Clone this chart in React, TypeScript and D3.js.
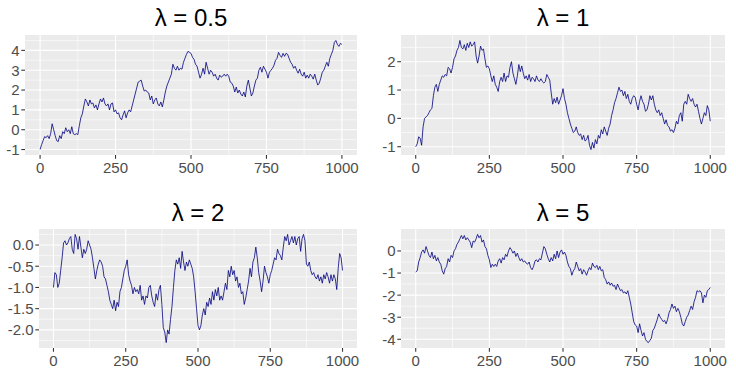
import React from "react";
import * as d3 from "d3";

const STEP = 5;
const X_TICKS = [0, 250, 500, 750, 1000];
const TITLES = ["λ = 0.5", "λ = 1", "λ = 2", "λ = 5"];

const WALK_05 = [
  -1.0, -0.75, -0.55, -0.35, -0.4, -0.3, -0.45, -0.2, 0.3, 0.0, -0.3, -0.55, -0.6, -0.3, -0.45, -0.1, -0.2, 0.1, -0.1, 0.0,
  -0.2, 0.15, -0.2, -0.25, -0.2, -0.25, 0.2, 0.6, 0.8, 1.2, 1.55, 1.4, 1.2, 1.5, 1.3, 1.35, 1.1, 1.25, 1.0, 1.3,
  1.55, 1.4, 1.6, 1.3, 1.2, 1.3, 1.0, 1.3, 1.35, 0.9, 1.0, 0.8, 0.85, 0.6, 0.5, 0.75, 0.95, 0.6, 0.85, 1.0,
  0.9, 1.2, 1.5, 1.8, 2.1, 2.4, 2.45, 2.5, 2.2, 1.95, 2.0, 1.9, 1.85, 1.5, 1.7, 1.3, 1.5, 1.6, 1.3, 1.2,
  1.4, 1.15, 1.5, 1.9, 2.2, 2.4, 2.6, 2.8, 3.3, 3.1, 3.0, 3.2, 3.0, 3.1, 3.05, 3.4, 3.6, 3.8, 3.95, 3.9,
  3.85, 3.65, 3.55, 3.3, 3.2, 2.9, 2.6, 2.8, 3.1, 2.8, 3.4, 3.1, 2.8, 3.0, 2.9, 2.7, 2.8, 2.6, 2.5, 2.75,
  2.65, 2.7, 2.8, 2.7, 2.8, 2.7, 2.4, 2.35, 2.2, 1.9, 2.15, 1.85, 2.0, 1.8, 1.7, 1.9, 1.65, 2.2, 2.5, 2.1,
  1.7, 1.85, 2.2, 2.5, 2.6, 3.0, 3.15, 2.9, 3.2, 3.05, 2.9, 2.6, 2.9, 3.0, 3.1, 3.25, 3.5, 3.6, 3.9, 3.75,
  3.65, 3.85, 3.7, 3.85, 3.8, 3.6, 3.4, 3.3, 3.1, 3.2, 3.0, 2.85, 3.05, 2.8, 2.7, 2.9, 2.6, 2.75, 2.6, 2.8,
  2.7, 2.55, 2.8, 2.5, 2.25, 2.35, 2.6, 2.9, 3.0, 3.2, 3.4, 3.2, 3.6, 3.8, 4.0, 4.4, 4.5, 4.3, 4.2, 4.35,
  4.3,
];

const WALK_1 = [
  -1.0, -0.9, -0.65, -0.7, -0.95, -0.3, 0.0, 0.05, 0.1, 0.2, 0.3, 0.35, 0.8, 1.1, 1.2, 0.95, 1.2, 1.35, 1.5, 1.45,
  1.55, 1.5, 1.8, 1.75, 1.6, 1.8, 2.1, 2.2, 2.4, 2.5, 2.75, 2.5, 2.45, 2.6, 2.4, 2.65, 2.5, 2.7, 2.55, 2.6,
  2.7, 2.2, 1.95, 2.2, 2.55, 2.4, 2.45, 2.1, 1.8, 1.85, 1.75, 1.5, 1.3, 1.5, 1.2, 1.1, 0.95, 1.3, 1.45, 1.3,
  1.6, 1.3, 1.5, 1.45, 1.8, 2.0, 1.6, 1.4, 1.2, 1.5, 1.9, 1.65, 1.85, 1.6, 1.4, 1.5, 1.35, 1.55, 1.3, 1.45,
  1.4, 1.3, 1.5, 1.35, 1.3, 1.4, 1.3, 1.25, 1.3, 1.55, 1.45, 1.35, 0.9, 0.5, 0.7, 0.55, 0.75, 0.5, 0.65, 0.8,
  1.05, 0.7, 0.5, 0.2, 0.0, -0.2, -0.35, -0.5, -0.45, -0.3, -0.5, -0.6, -0.55, -0.75, -0.6, -0.8, -0.75, -0.6, -0.95, -1.1,
  -0.85, -1.05, -0.75, -0.9, -0.6, -0.7, -0.4, -0.55, -0.3, -0.45, -0.6, -0.35, -0.2, 0.1, 0.3, 0.55, 0.7, 0.9, 1.1, 0.95,
  1.0, 0.8, 0.95, 0.7, 0.85, 0.6, 0.5, 0.7, 0.8, 0.75, 0.5, 0.3, 0.6, 0.8, 0.6, 0.5, 0.25, 0.3, 0.5, 0.8,
  0.65, 0.8, 0.5, 0.3, 0.2, 0.3, 0.1, 0.2, 0.0, -0.2, -0.05, -0.25, -0.3, -0.45, -0.4, -0.5, -0.35, -0.1, -0.2, 0.1,
  0.2, -0.1, 0.5, 0.6, 0.5, 0.85, 0.7, 0.6, 0.7, 0.5, 0.4, 0.5, 0.25, 0.0, -0.2, 0.0, 0.2, 0.1, 0.45, 0.3,
  -0.1,
];

const WALK_2 = [
  -1.0, -0.65, -0.7, -1.0, -0.9, -0.6, -0.3, 0.05, 0.1, 0.0, 0.05, 0.15, 0.2, -0.1, -0.2, 0.25, 0.15, -0.1, 0.2, -0.05,
  -0.3, -0.1, -0.2, -0.1, 0.1, 0.0, -0.1, -0.3, -0.55, -0.8, -0.6, -0.45, -0.35, -0.4, -0.5, -0.75, -0.8, -0.95, -1.1, -1.3,
  -1.4, -1.5, -1.3, -1.55, -1.35, -1.45, -1.1, -1.0, -0.8, -0.6, -0.5, -0.35, -0.7, -0.85, -0.95, -1.15, -1.0, -1.1, -1.05, -1.15,
  -0.95, -1.3, -1.2, -1.4, -1.2, -1.25, -1.0, -0.95, -1.2, -1.35, -1.45, -1.15, -1.3, -1.05, -0.95, -1.4, -1.95, -2.05, -2.3, -2.0,
  -2.1, -1.75, -1.45, -1.0, -0.6, -0.35, -0.45, -0.3, -0.55, -0.15, -0.4, -0.6, -0.4, -0.5, -0.35, -0.45, -0.55, -0.75, -1.1, -1.5,
  -1.9, -2.0, -1.9, -1.65, -1.5, -1.65, -1.35, -1.45, -1.25, -1.4, -1.1, -1.3, -1.05, -1.2, -1.0, -1.3, -1.2, -1.3, -1.1, -0.9,
  -1.05, -0.6, -0.75, -0.5, -0.7, -0.6, -0.85, -0.75, -1.0, -0.9, -1.15, -1.1, -1.4, -1.25, -1.05, -0.85, -0.55, -0.75, -0.4, -0.3,
  -0.05, -0.3, -0.65, -0.85, -1.1, -0.85, -0.5, -0.65, -0.75, -0.9, -0.7, -0.6, -0.45, -0.3, -0.35, -0.1, -0.2, -0.25, -0.35, -0.05,
  0.2, 0.1, 0.25, 0.0, 0.1, 0.2, 0.05, 0.2, 0.0, 0.15, 0.2, -0.15, 0.15, 0.25, 0.1, -0.45, -0.5, -0.4, -0.6, -0.7,
  -0.65, -0.75, -0.8, -0.7, -0.85, -0.75, -0.9, -0.7, -0.8, -0.65, -0.75, -0.9, -0.7, -0.85, -0.7, -0.8, -1.05, -0.55, -0.2, -0.3,
  -0.6,
];

const WALK_5 = [
  -0.95, -0.9, -0.5, -0.3, -0.05, 0.05, -0.1, 0.2, 0.0, -0.2, -0.3, -0.05, -0.35, -0.2, -0.45, -0.3, -0.5, -0.6, -0.9, -1.05,
  -0.8, -0.7, -0.35, -0.5, -0.2, -0.3, 0.0, 0.1, 0.3, 0.4, 0.55, 0.7, 0.55, 0.7, 0.5, 0.6, 0.5, 0.4, 0.15, 0.45,
  0.4, 0.55, 0.75, 0.6, 0.7, 0.4, 0.5, 0.2, 0.1, -0.2, -0.4, -0.75, -0.6, -0.7, -0.6, -0.7, -0.45, -0.35, -0.55, -0.3,
  -0.4, -0.15, -0.25, 0.0, 0.15, 0.05, -0.1, 0.0, -0.25, -0.1, -0.3, -0.45, -0.35, -0.5, -0.45, -0.55, -0.6, -0.5, -0.75, -0.85,
  -0.7, -0.45, -0.4, -0.5, -0.35, -0.4, -0.1, 0.2, 0.1, -0.15, -0.35, -0.5, -0.3, -0.45, -0.15, -0.35, 0.0, -0.3, -0.05, 0.05,
  -0.15, -0.05, -0.2, -0.5, -0.7, -0.8, -1.1, -0.9, -0.8, -0.5, -0.7, -0.9, -0.8, -1.05, -0.85, -0.95, -1.1, -0.9, -0.75, -0.85,
  -0.55, -0.7, -0.75, -0.65, -0.85, -0.7, -0.9, -0.85, -1.2, -1.3, -1.5, -1.4, -1.55, -1.45, -1.6, -1.55, -1.75, -1.5, -1.65, -1.8,
  -1.75, -1.9, -1.85, -1.95, -1.8, -2.1, -2.4, -2.8, -3.2, -3.35, -3.4, -3.7, -3.3, -3.6, -3.85, -3.7, -4.0, -4.1, -4.15, -4.05,
  -3.95, -3.6, -3.5, -3.3, -3.1, -2.85, -3.0, -3.1, -3.2, -3.15, -3.3, -3.1, -2.8, -2.65, -2.4, -2.6, -2.5, -2.75, -2.6, -2.75,
  -3.0, -3.3, -3.4, -3.2, -3.0, -2.9, -2.7, -2.5, -2.65, -2.3, -2.1, -1.8, -1.85, -1.8, -1.9, -2.35, -2.0, -2.1, -1.8, -1.75,
  -1.65,
];

const SERIES = [WALK_05, WALK_1, WALK_2, WALK_5];
const DECIMALS = [0, 0, 1, 0];

// layout (pixels)
const W = 736;
const H = 369;
const BOXES = [
  { left: 25, right: 357, top: 35, bottom: 155, titleY: 26 },
  { left: 401, right: 725, top: 35, bottom: 155, titleY: 26 },
  { left: 39, right: 357, top: 229, bottom: 348, titleY: 221 },
  { left: 401, right: 725, top: 229, bottom: 348, titleY: 221 },
];

const FONT = "Arial, 'Liberation Sans', Helvetica, sans-serif";

function minorBreaks(major: number[], domain: [number, number]) {
  if (major.length < 2) return [];
  const step = major[1] - major[0];
  const out: number[] = [];
  const lo = Math.min(domain[0], domain[1]);
  const hi = Math.max(domain[0], domain[1]);
  for (let i = -1; i < major.length; i++) {
    const v = major[0] + (i + 0.5) * step;
    if (v >= lo && v <= hi) out.push(v);
  }
  return out;
}

function Panel({ idx }: { idx: number }) {
  const b = BOXES[idx];
  const values = SERIES[idx];
  const data = values.map((v, i) => ({ x: i * STEP, y: v }));
  const xExt = d3.extent(data, (d) => d.x) as [number, number];
  const yExt = d3.extent(data, (d) => d.y) as [number, number];
  const xPad = (xExt[1] - xExt[0]) * 0.05;
  const yPad = (yExt[1] - yExt[0]) * 0.05;
  const x = d3.scaleLinear().domain([xExt[0] - xPad, xExt[1] + xPad]).range([b.left, b.right]);
  const y = d3.scaleLinear().domain([yExt[0] - yPad, yExt[1] + yPad]).range([b.bottom, b.top]);
  const yTicks = y.ticks(5);
  const yMinor = minorBreaks(yTicks, y.domain() as [number, number]);
  const xMinor = minorBreaks(X_TICKS, x.domain() as [number, number]);
  const line = d3
    .line<{ x: number; y: number }>()
    .x((d) => x(d.x))
    .y((d) => y(d.y));
  const fmt = (v: number) => v.toFixed(DECIMALS[idx]);
  const tickLen = 3.7;
  return (
    <g>
      <rect x={b.left} y={b.top} width={b.right - b.left} height={b.bottom - b.top} fill="#EBEBEB" />
      {yMinor.map((v) => (
        <line key={"ym" + v} x1={b.left} x2={b.right} y1={y(v)} y2={y(v)} stroke="#FFFFFF" strokeWidth={0.6} />
      ))}
      {xMinor.map((v) => (
        <line key={"xm" + v} y1={b.top} y2={b.bottom} x1={x(v)} x2={x(v)} stroke="#FFFFFF" strokeWidth={0.6} />
      ))}
      {yTicks.map((v) => (
        <line key={"yM" + v} x1={b.left} x2={b.right} y1={y(v)} y2={y(v)} stroke="#FFFFFF" strokeWidth={1.1} />
      ))}
      {X_TICKS.map((v) => (
        <line key={"xM" + v} y1={b.top} y2={b.bottom} x1={x(v)} x2={x(v)} stroke="#FFFFFF" strokeWidth={1.1} />
      ))}
      <path d={line(data) || ""} fill="none" stroke="#000080" strokeWidth={0.8} strokeLinejoin="round" />
      {yTicks.map((v) => (
        <g key={"yt" + v}>
          <line x1={b.left - tickLen} x2={b.left} y1={y(v)} y2={y(v)} stroke="#333333" strokeWidth={1.07} />
          <text
            x={b.left - tickLen - 1.8}
            y={y(v)}
            dy="0.36em"
            textAnchor="end"
            fontFamily={FONT}
            fontSize={15}
            fill="#4D4D4D"
          >
            {fmt(v)}
          </text>
        </g>
      ))}
      {X_TICKS.map((v) => (
        <g key={"xt" + v}>
          <line x1={x(v)} x2={x(v)} y1={b.bottom} y2={b.bottom + tickLen} stroke="#333333" strokeWidth={1.07} />
          <text
            x={x(v)}
            y={b.bottom + 17.8}
            textAnchor="middle"
            fontFamily={FONT}
            fontSize={15}
            fill="#4D4D4D"
          >
            {String(v)}
          </text>
        </g>
      ))}
      <text
        x={(b.left + b.right) / 2}
        y={b.titleY}
        textAnchor="middle"
        fontFamily={FONT}
        fontSize={24}
        fill="#000000"
      >
        {TITLES[idx]}
      </text>
    </g>
  );
}

export default function App() {
  return (
    <div style={{ position: "absolute", left: 0, top: 0, width: W, height: H, background: "#FFFFFF" }}>
      <svg width={W} height={H} viewBox={`0 0 ${W} ${H}`} style={{ display: "block" }}>
        <rect x={0} y={0} width={W} height={H} fill="#FFFFFF" />
        {SERIES.map((_, i) => (
          <Panel key={i} idx={i} />
        ))}
      </svg>
    </div>
  );
}
